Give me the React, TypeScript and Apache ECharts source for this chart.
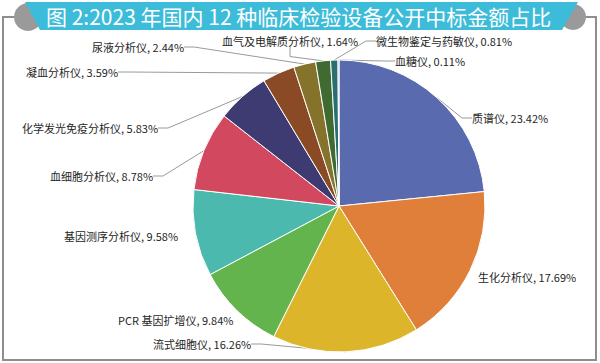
import React, { useEffect, useRef } from "react";
import * as echarts from "echarts";

const categories = [
  "质谱仪",
  "生化分析仪",
  "流式细胞仪",
  "PCR 基因扩增仪",
  "基因测序分析仪",
  "血细胞分析仪",
  "化学发光免疫分析仪",
  "凝血分析仪",
  "尿液分析仪",
  "血气及电解质分析仪",
  "微生物鉴定与药敏仪",
  "血糖仪",
];
const shares = [23.42, 17.69, 16.26, 9.84, 9.58, 8.78, 5.83, 3.59, 2.44, 1.64, 0.81, 0.11];
const colors = [
  "#5a6aaf", "#e07f3a", "#dcb52b", "#63b44c", "#4bb9ad", "#d2495f",
  "#3e3a72", "#8a4a25", "#85722b", "#3f6a31", "#2b6e6f", "#7aa6cf",
];
// label anchor positions (left x, middle y) per slice
const labelPos: [number, number][] = [
  [472, 118], [478, 277], [153, 344], [118, 320], [64, 236], [50, 176],
  [22, 128], [26, 72], [92, 47], [222, 41], [376, 41], [395, 61],
];
const noLine = [1, 3, 4];
const titleText = "图 2:2023 年国内 12 种临床检验设备公开中标金额占比";

export default function App() {
  const ref = useRef<HTMLDivElement>(null);
  useEffect(() => {
    if (!ref.current) return;
    const chart = echarts.init(ref.current, undefined, { renderer: "svg" });
    const data = categories.map((name, i) => ({
      name,
      value: shares[i],
      itemStyle: { color: colors[i] },
      labelLine: { show: noLine.indexOf(i) < 0 },
    }));
    chart.setOption({
      animation: false,
      backgroundColor: "#ffffff",
      graphic: [
        { type: "rect", shape: { x: 3, y: 17, width: 593, height: 343 }, style: { fill: "#fff", stroke: "#8e8e8e", lineWidth: 2 }, z: 0 },
        { type: "circle", shape: { cx: 28, cy: 17, r: 14 }, style: { fill: "#9a9a9a" }, z: 1 },
        { type: "circle", shape: { cx: 573, cy: 17, r: 13 }, style: { fill: "#9a9a9a" }, z: 1 },
        { type: "polygon", shape: { points: [[25, 2], [578, 2], [562, 30], [40, 30]] }, style: { fill: "#3dbcd9" }, z: 2 },
        {
          type: "text",
          x: 46,
          y: 16,
          z: 3,
          style: {
            text: titleText,
            fill: "#ffffff",
            font: "21px 'Noto Sans CJK SC'",
            verticalAlign: "middle",
            align: "left",
          },
        },
      ],
      series: [
        {
          type: "pie",
          center: [339, 206],
          radius: 146,
          startAngle: 90,
          clockwise: true,
          avoidLabelOverlap: false,
          itemStyle: { borderColor: "#ffffff", borderWidth: 1 },
          label: {
            show: true,
            position: "outside",
            formatter: (p: any) => `${p.name}, ${p.value.toFixed(2)}%`,
            fontSize: 11,
            color: "#262626",
            fontFamily: "'Noto Sans CJK SC'",
          },
          labelLine: { show: true, length: 10, length2: 10, lineStyle: { color: "#9a9a9a", width: 1 } },
          labelLayout: (params: any) => {
            const p = labelPos[params.dataIndex];
            return { x: p[0], y: p[1], align: "left", verticalAlign: "middle" };
          },
          data,
        },
      ],
    });
    return () => chart.dispose();
  }, []);
  return (
    <div
      ref={ref}
      style={{ position: "fixed", left: 0, top: 0, width: 600, height: 363, background: "#fff" }}
    />
  );
}
